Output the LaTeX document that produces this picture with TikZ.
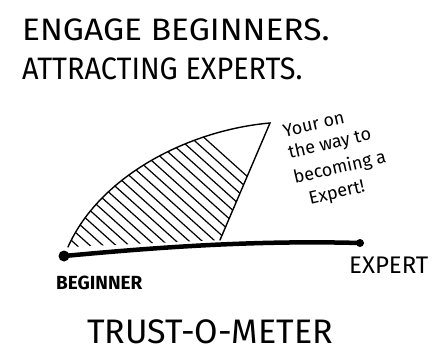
\documentclass[tikz,border=0pt]{standalone}
\usepackage{fontspec}
\setmainfont{Fira Sans}
\usepackage{tikz}
\usetikzlibrary{positioning, calc}

\begin{document}
\begin{tikzpicture}[x=1pt, y=-1pt,
  every node/.style={inner sep=0pt},
  head/.style={anchor=base west, font=\fontsize{31}{36}\selectfont},
  endlabel/.style={anchor=west, font=\fontsize{24}{28}\selectfont},
  notetext/.style={anchor=base, rotate=13, font=\fontsize{18}{21}\selectfont},
  hatchline/.style={line width=1.2pt, line cap=round},
  edge/.style={line width=1.4pt, line cap=round}]
  \useasboundingbox (0,0) rectangle (441,351);

  % title
  \node[head, xscale=1.08] (line1) at (22,40) {ENGAGE BEGINNERS.};
  \node[head, xscale=0.93] (line2) at (22,79) {ATTRACTING EXPERTS.};

  % the meter
  \coordinate (begdot) at (64,256);
  \coordinate (expdot) at (360,243);
  \coordinate (tail) at (68,247);
  \coordinate (apex) at (270,123);
  \coordinate (foot) at (220,240);

  \begin{scope}
    \clip (tail) .. controls (100,175) and (190,130) .. (apex) -- (foot) -- cycle;
    \foreach \c in {30,43,...,330}
      \draw[hatchline] (\c-200,250-180) -- (\c+20,250+18);
  \end{scope}
  \draw[edge] (tail) .. controls (100,175) and (190,130) .. (apex) -- (foot);

  \draw[line width=4.5pt, line cap=round] (begdot) .. controls (150,248) and (250,240) .. (expdot);
  \fill (begdot) circle (5.5);
  \fill (expdot) circle (4);

  \node[endlabel, font=\bfseries\fontsize{19}{22}\selectfont] (beg) at (56,283) {BEGINNER};
  \node[endlabel] (exp) at (349,265) {EXPERT};

  % note beside the apex
  \node[notetext] (note1) at (315,130) {Your on};
  \node[notetext] (note2) at (331,149) {the way to};
  \node[notetext] (note3) at (341,173) {becoming a};
  \node[notetext] (note4) at (338,198) {Expert!};

  \node[anchor=base, font=\fontsize{34}{40}\selectfont] (meter) at (210,343) {TRUST-O-METER};
\end{tikzpicture}
\end{document}
